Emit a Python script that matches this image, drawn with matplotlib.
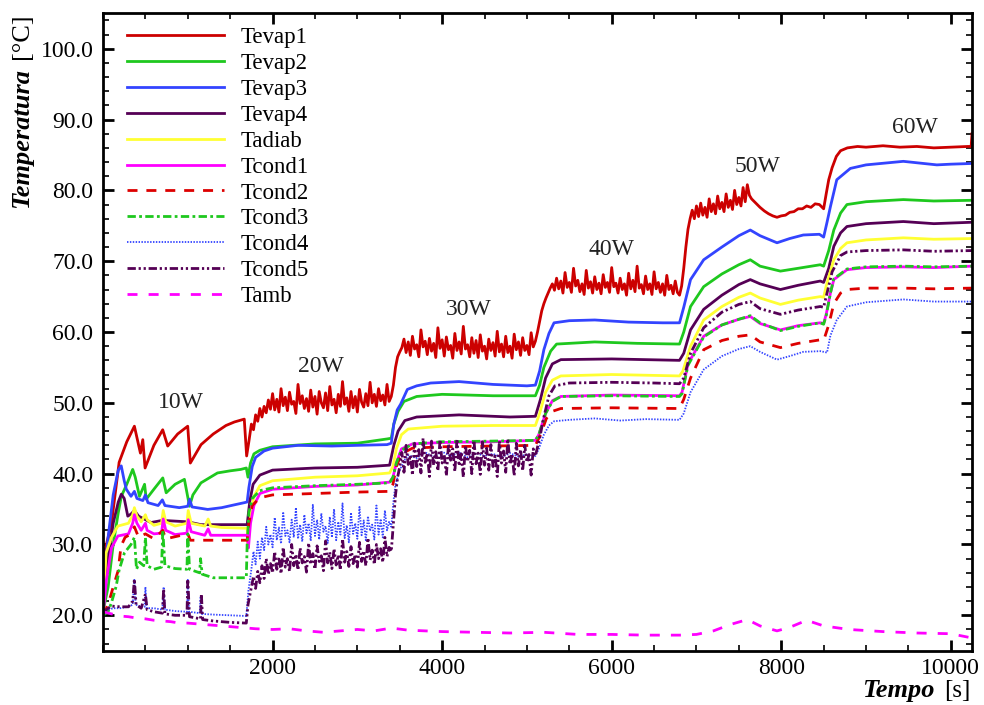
import numpy as np
import matplotlib
matplotlib.use("Agg")
import matplotlib.pyplot as plt
from matplotlib.ticker import MultipleLocator, FormatStrFormatter

# ---------------- data ----------------
# Tevap1 : keypoints (10 W), 25 s grid 1750-7650 (noisy part), keypoints afterwards
tevap1_t_a = [0, 100, 190, 280, 370, 441, 469, 496, 600, 704, 763, 880, 999, 1030,
              1156, 1300, 1450, 1550, 1666, 1694, 1720]
tevap1_T_a = [28.0, 33.0, 41.6, 44.5, 46.7, 42.9, 44.8, 40.8, 44.0, 46.2, 43.9, 45.6, 46.7, 41.5,
              44.1, 45.6, 46.8, 47.3, 47.7, 42.5, 44.5]
tevap1_T_grid = [
    # 20 W
    47.0, 46.2, 48.3, 47.4, 49.2, 48.0, 49.5, 48.6, 50.4, 49.1,
    51.3, 49.0, 50.5, 48.7, 52.0, 49.6, 50.8, 48.9, 51.5, 49.8,
    50.2, 48.5, 52.6, 49.9, 51.0, 49.2, 50.6, 48.8, 51.8, 49.4,
    50.9, 48.4, 51.6, 50.0, 49.3, 51.4, 48.9, 52.3, 49.7, 50.5,
    48.6, 51.2, 49.5, 53.0, 49.8, 50.7, 48.8, 51.6, 49.3, 50.9,
    48.7, 51.9, 50.1, 49.4, 51.3, 49.6, 52.9, 50.0, 51.2, 49.5,
    52.0, 50.3, 51.1, 49.7, 52.6, 50.2, 50.9,
    # 30 W
    52.5, 55.0, 56.5, 57.2, 57.8, 59.0, 57.1, 58.6, 56.7, 59.4,
    57.6, 58.2, 56.5, 60.3, 57.9, 58.7, 56.8, 59.1, 57.3, 58.4,
    56.4, 60.6, 57.7, 58.9, 56.6, 59.3, 57.5, 58.1, 56.3, 59.8,
    57.4, 58.6, 56.9, 60.8, 57.6, 58.2, 56.5, 59.2, 57.0, 58.8,
    56.4, 59.6, 57.3, 58.0, 56.2, 59.0, 57.4, 58.5, 56.6, 60.1,
    57.2, 58.3, 56.5, 59.4, 57.1, 58.0, 56.3, 59.7, 57.5, 58.6,
    56.7, 59.2, 57.4, 58.1, 56.8, 59.9, 57.9, 58.7,
    # 40 W
    60.0, 61.5, 63.0, 64.0, 64.8, 65.5, 66.2, 66.8, 65.9, 67.6,
    66.1, 67.2, 65.5, 68.4, 66.3, 67.0, 65.6, 69.0, 66.5, 67.3,
    65.7, 66.8, 65.3, 68.7, 66.2, 67.1, 65.5, 67.8, 66.0, 66.9,
    65.4, 68.1, 66.3, 67.0, 65.6, 69.1, 66.4, 66.9, 65.5, 67.6,
    66.0, 66.8, 65.2, 68.3, 66.1, 67.3, 65.7, 69.3, 66.2, 66.7,
    65.4, 67.9, 66.0, 66.8, 65.3, 68.5, 66.1, 67.0, 65.6, 66.8,
    65.2, 68.0, 66.0, 66.6, 65.4, 67.2, 65.6, 65.2,
    # 50 W
    66.5, 69.0, 72.0, 74.5, 76.0, 77.2, 76.0, 77.8, 76.3, 78.2,
    76.5, 77.6, 76.2, 78.8, 77.0, 78.1, 76.7, 79.2, 77.4, 78.3,
    77.0, 79.5, 77.6, 78.6, 77.3, 80.0, 78.0, 79.0, 77.8, 80.4,
    78.4, 80.8, 79.3, 78.8]
tevap1_t_b = [7700, 7750, 7800, 7850, 7900, 7950, 8000, 8050, 8100, 8150, 8200, 8250, 8300,
              8350, 8400, 8450, 8500, 8530, 8560, 8600, 8650, 8700, 8780, 8900, 9000, 9200,
              9400, 9600, 9800, 10000, 10200, 10240, 10250]
tevap1_T_b = [78.2, 77.6, 77.1, 76.7, 76.4, 76.2, 76.4, 76.5, 76.9, 77.0, 77.4, 77.4, 77.8,
              77.6, 78.1, 78.0, 77.4, 79.5, 81.5, 83.2, 84.8, 85.6, 86.0, 86.2, 86.1, 86.3,
              86.1, 86.2, 86.0, 86.1, 86.2, 86.2, 88.0]

tevap2_t = [0, 60, 120, 180, 216, 280, 350, 380, 430, 490, 510, 600, 705, 745, 850, 960,
            1020, 1060, 1155, 1350, 1500, 1625, 1690, 1710, 1740, 1780, 1850, 2000, 2500,
            3000, 3350, 3400, 3430, 3480, 3550, 3700, 4000, 4600, 5100, 5150, 5200, 5280,
            5350, 5800, 6300, 6800, 6850, 6930, 7085, 7300, 7500, 7635, 7750, 7990, 8200,
            8460, 8500, 8560, 8620, 8700, 8775, 9000, 9440, 9800, 10250]
tevap2_T = [20.5, 24.0, 30.0, 34.5, 36.8, 38.5, 40.6, 39.5, 36.8, 38.5, 36.4, 37.8, 39.4, 37.3,
            38.5, 39.2, 35.4, 37.0, 38.7, 40.1, 40.4, 40.6, 40.8, 39.5, 41.5, 42.8, 43.3, 43.8,
            44.2, 44.3, 44.9, 45.0, 47.0, 48.8, 50.2, 50.9, 51.2, 51.0, 51.0, 52.5, 55.0, 57.3,
            58.3, 58.6, 58.4, 58.3, 60.0, 63.6, 66.4, 68.2, 69.5, 70.2, 69.3, 68.6, 69.0, 69.5,
            69.3, 71.5, 74.4, 76.8, 78.0, 78.4, 78.7, 78.5, 78.6]

tevap3_t = [0, 60, 120, 180, 215, 250, 275, 330, 370, 400, 470, 500, 530, 650, 700, 730,
            900, 1000, 1020, 1050, 1235, 1400, 1550, 1665, 1700, 1720, 1760, 1800, 1900,
            2000, 2300, 2700, 3000, 3350, 3400, 3430, 3470, 3510, 3590, 3700, 3865, 4200,
            4600, 5000, 5100, 5150, 5200, 5260, 5320, 5500, 5800, 6200, 6600, 6800, 6850,
            6930, 7085, 7300, 7500, 7635, 7750, 7950, 8100, 8260, 8450, 8500, 8540, 8580,
            8655, 8815, 9000, 9440, 9835, 10000, 10250]
tevap3_T = [24.0, 31.0, 37.0, 40.5, 41.1, 39.0, 37.8, 36.8, 37.5, 36.5, 36.2, 37.0, 35.9,
            35.5, 36.3, 35.5, 35.2, 35.4, 36.4, 35.3, 34.95, 35.2, 35.6, 35.9, 36.0, 38.0,
            41.0, 42.3, 43.2, 43.6, 44.0, 43.9, 44.0, 44.1, 44.3, 47.0, 49.0, 49.8, 51.9,
            52.4, 52.8, 53.0, 52.6, 52.4, 52.5, 54.5, 57.5, 59.8, 61.3, 61.6, 61.7, 61.4,
            61.3, 61.3, 63.5, 67.4, 70.2, 72.0, 73.6, 74.4, 73.6, 72.6, 73.2, 73.7, 73.8,
            73.4, 75.5, 77.7, 81.5, 83.1, 83.6, 84.1, 83.6, 83.7, 83.8]

tevap4_t = [0, 60, 120, 180, 216, 250, 292, 330, 370, 420, 565, 700, 1000, 1155, 1665, 1700,
            1730, 1770, 1850, 2000, 2500, 3000, 3380, 3430, 3480, 3560, 3700, 4200, 4800,
            5100, 5160, 5220, 5300, 5400, 6000, 6800, 6850, 6930, 7085, 7300, 7500, 7635,
            7750, 7990, 8200, 8460, 8500, 8560, 8620, 8700, 8775, 9000, 9440, 9800, 10250]
tevap4_T = [22.0, 28.0, 33.0, 36.0, 37.1, 36.5, 34.0, 34.3, 34.8, 34.0, 33.1, 33.4, 33.2,
            32.8, 32.8, 32.8, 36.0, 38.5, 39.8, 40.5, 40.8, 40.9, 41.2, 44.0, 46.0, 47.5,
            48.0, 48.3, 48.0, 48.1, 50.5, 53.5, 55.5, 56.1, 56.2, 56.0, 57.0, 60.3, 63.2,
            65.2, 66.7, 67.4, 66.8, 66.0, 66.6, 67.2, 67.0, 69.0, 72.1, 74.0, 74.9, 75.3,
            75.6, 75.3, 75.5]

tadiab_t = [0, 36, 100, 175, 300, 350, 370, 400, 450, 500, 520, 600, 690, 710, 740, 850,
            990, 1005, 1040, 1200, 1240, 1270, 1400, 1665, 1700, 1710, 1740, 1780, 1850,
            2000, 2500, 3000, 3380, 3420, 3460, 3520, 3600, 4000, 4600, 5100, 5150, 5220,
            5300, 5400, 6000, 6800, 6840, 6930, 7085, 7300, 7500, 7635, 7750, 7990, 8200,
            8460, 8500, 8530, 8620, 8700, 8775, 9000, 9440, 9800, 10250]
tadiab_T = [20.5, 28.8, 31.0, 32.6, 33.0, 34.2, 35.2, 34.0, 33.2, 34.2, 33.5, 32.7, 33.0,
            34.8, 33.2, 32.6, 33.0, 34.8, 33.0, 32.6, 33.6, 32.6, 32.4, 32.3, 32.3, 30.0,
            34.0, 36.8, 38.3, 39.0, 39.5, 39.7, 40.1, 41.0, 43.5, 45.5, 46.3, 46.7, 46.8,
            46.8, 48.5, 51.5, 53.2, 53.8, 54.0, 53.8, 54.5, 58.0, 61.7, 63.6, 64.9, 65.5,
            64.8, 63.9, 64.5, 65.0, 64.9, 66.5, 70.2, 71.8, 72.6, 73.0, 73.3, 73.1, 73.2]

tcond1_t = [0, 40, 100, 175, 300, 350, 370, 400, 450, 500, 520, 600, 690, 710, 740, 850,
            990, 1005, 1040, 1200, 1240, 1270, 1665, 1700, 1715, 1740, 1780, 1850, 2000,
            2500, 3000, 3380, 3420, 3460, 3520, 3650, 4000, 4600, 5100, 5140, 5220, 5300,
            5400, 6000, 6800, 6830, 6900, 7085, 7300, 7500, 7635, 7750, 7990, 8200, 8460,
            8500, 8530, 8580, 8620, 8775, 9000, 9440, 9800, 10250]
tcond1_T = [20.0, 25.0, 29.5, 31.2, 31.5, 33.0, 34.2, 33.0, 32.0, 33.0, 32.0, 31.5, 31.6,
            33.6, 32.0, 31.4, 31.6, 33.5, 31.8, 31.3, 32.2, 31.3, 31.3, 31.3, 29.5, 33.0,
            35.5, 37.2, 37.8, 38.2, 38.4, 38.8, 39.5, 41.5, 43.5, 44.2, 44.4, 44.5, 44.7,
            45.5, 48.5, 50.3, 50.9, 51.1, 51.0, 51.5, 55.5, 59.4, 61.0, 61.8, 62.2, 61.2,
            60.3, 60.9, 61.3, 61.2, 62.5, 65.5, 67.4, 68.8, 69.1, 69.2, 69.1, 69.3]

tcond2_t = [0, 60, 120, 178, 213, 260, 330, 370, 420, 500, 600, 705, 740, 1000, 1030, 1665,
            1700, 1720, 1760, 1850, 2000, 2500, 3000, 3380, 3420, 3460, 3520, 3650, 4000,
            4600, 5100, 5160, 5230, 5300, 5400, 6000, 6800, 6850, 6930, 7085, 7300, 7500,
            7635, 7750, 7990, 8200, 8460, 8500, 8560, 8620, 8700, 8775, 9000, 9440, 9800,
            10250]
tcond2_T = [20.0, 21.5, 24.0, 26.3, 29.8, 31.0, 31.5, 32.5, 31.0, 31.5, 30.8, 32.0, 30.8,
            31.5, 30.6, 30.6, 30.6, 33.0, 35.5, 36.6, 37.0, 37.2, 37.4, 37.5, 38.5, 41.0,
            42.8, 43.6, 43.8, 43.9, 44.0, 45.5, 47.8, 48.8, 49.2, 49.3, 49.2, 50.5, 53.5,
            57.5, 58.8, 59.4, 59.6, 58.6, 57.8, 58.4, 58.9, 58.8, 61.0, 64.0, 65.5, 66.0,
            66.2, 66.2, 66.1, 66.2]

tcond3_t = [0, 60, 100, 155, 190, 252, 330, 370, 395, 430, 480, 500, 520, 600, 690, 705,
            730, 850, 990, 1000, 1020, 1140, 1150, 1170, 1300, 1665, 1690, 1700, 1720, 1760,
            1850, 2000, 2500, 3000, 3380, 3420, 3460, 3520, 3650, 4000, 4600, 5100, 5140,
            5220, 5300, 5400, 6000, 6800, 6830, 6900, 7085, 7300, 7500, 7635, 7750, 7990,
            8200, 8460, 8500, 8530, 8580, 8620, 8775, 9000, 9440, 9800, 10250]
tcond3_T = [20.0, 20.5, 21.8, 24.1, 26.4, 28.8, 30.0, 31.0, 26.5, 27.5, 27.0, 31.0, 27.0,
            26.5, 26.8, 32.0, 27.0, 26.6, 26.5, 31.5, 26.5, 26.0, 28.0, 25.8, 25.3, 25.3,
            25.3, 30.0, 34.5, 36.5, 37.6, 38.0, 38.3, 38.5, 38.7, 39.5, 41.5, 43.3, 44.2,
            44.5, 44.6, 44.7, 45.5, 48.5, 50.2, 50.9, 51.0, 50.9, 51.3, 55.3, 59.3, 61.0,
            61.8, 62.3, 61.3, 60.2, 60.8, 61.3, 61.1, 62.3, 65.5, 67.5, 68.9, 69.2, 69.3,
            69.2, 69.3]

# Tcond4 : keypoints (10 W), 25 s grid 1750-3400 (noisy 20 W), keypoints afterwards
tcond4_t_a = [0, 60, 120, 200, 300, 350, 370, 385, 450, 490, 500, 515, 600, 700, 715, 730,
              850, 990, 1000, 1015, 1140, 1150, 1165, 1300, 1500, 1665, 1690, 1715]
tcond4_T_a = [20.5, 20.8, 21.0, 21.0, 21.2, 21.5, 25.0, 21.5, 21.2, 21.2, 24.0, 21.0, 21.0,
              20.8, 24.0, 20.8, 20.6, 20.5, 25.0, 20.5, 20.3, 22.5, 20.2, 20.1, 20.0, 19.9,
              19.9, 23.5]
tcond4_T_grid = [26.5, 29.0, 27.2, 30.4, 28.0, 31.0, 29.2, 32.5, 30.0, 31.4,
                 29.6, 33.8, 30.6, 32.4, 30.1, 34.6, 31.2, 32.0, 30.3, 33.5,
                 31.0, 35.2, 30.8, 32.8, 30.4, 34.2, 31.6, 33.0, 30.5, 35.6,
                 31.2, 33.5, 30.7, 34.4, 31.8, 32.6, 30.2, 33.9, 31.0, 35.0,
                 30.6, 33.2, 31.4, 35.8, 30.9, 32.7, 30.3, 34.5, 31.5, 33.0,
                 30.8, 35.3, 31.3, 33.4, 30.6, 34.0, 31.9, 32.8, 30.7, 35.5,
                 31.4, 33.6, 31.0, 34.8, 32.0, 33.2, 32.5]
tcond4_t_b = [3425, 3450, 3500, 3550, 3600, 3700, 3800, 3900, 4000, 4100, 4200, 4300, 4400,
              4500, 4600, 4700, 4800, 4900, 5000, 5100, 5140, 5200, 5260, 5320, 5500, 5800,
              6100, 6400, 6800, 6850, 6930, 7085, 7300, 7500, 7635, 7750, 7950, 8100, 8260,
              8460, 8540, 8580, 8655, 8775, 9000, 9440, 9800, 10250]
tcond4_T_b = [36.0, 38.5, 40.5, 41.8, 42.6, 42.2, 43.0, 42.4, 43.1, 42.5, 43.0, 42.3, 42.9,
              42.5, 42.8, 42.3, 42.9, 42.4, 42.7, 42.5, 43.5, 45.5, 46.8, 47.4, 47.6, 47.8,
              47.5, 47.7, 47.6, 48.5, 51.5, 54.7, 56.6, 57.6, 58.0, 57.2, 56.1, 56.6, 57.2,
              57.3, 57.1, 59.5, 61.7, 63.6, 64.2, 64.6, 64.3, 64.3]

# Tcond5 : keypoints (10 W), 25 s grid 1750-5100 (noisy 20-30 W), keypoints afterwards
tcond5_t_a = [0, 100, 200, 300, 350, 370, 390, 450, 500, 520, 600, 700, 715, 730, 850, 990,
              1000, 1020, 1150, 1160, 1175, 1300, 1500, 1665, 1690, 1710]
tcond5_T_a = [20.5, 21.3, 21.2, 21.2, 22.0, 25.1, 21.5, 21.0, 23.0, 20.8, 20.5, 20.3, 23.7,
              20.2, 20.0, 20.0, 25.1, 19.8, 19.5, 23.0, 19.4, 19.2, 19.0, 18.9, 18.9, 21.5]
tcond5_T_grid = [
    # 20 W
    24.0, 25.5, 23.8, 26.2, 24.6, 27.0, 25.2, 28.0, 25.8, 27.3,
    26.0, 29.0, 26.5, 28.2, 25.9, 29.6, 26.8, 28.0, 26.2, 30.0,
    27.0, 28.6, 26.4, 29.5, 27.4, 28.3, 26.1, 30.2, 27.2, 28.7,
    26.5, 29.8, 27.6, 28.4, 26.3, 30.5, 27.4, 28.9, 26.6, 29.4,
    27.1, 28.5, 26.4, 30.8, 27.5, 29.0, 26.9, 29.7, 27.3, 28.6,
    26.8, 30.3, 27.6, 29.1, 27.0, 30.9, 27.8, 29.2, 27.2, 30.0,
    28.0, 29.4, 27.5, 31.0, 28.3, 29.6, 29.0,
    # 30 W
    33.0, 37.0, 39.5, 41.0, 43.0, 40.2, 44.0, 41.3, 42.6, 39.8,
    44.3, 41.0, 43.4, 40.1, 45.0, 41.6, 42.9, 39.6, 44.6, 41.2,
    43.1, 40.4, 44.8, 41.5, 42.7, 39.7, 44.2, 41.9, 43.5, 40.3,
    44.9, 41.1, 42.8, 39.5, 44.0, 41.7, 43.3, 40.0, 44.7, 41.4,
    42.9, 39.9, 44.5, 41.2, 43.6, 40.5, 44.1, 41.0, 42.5, 39.6,
    44.6, 41.5, 43.2, 40.2, 44.9, 41.3, 42.8, 39.7, 44.3, 41.1,
    43.4, 40.4, 44.0, 41.6, 42.7, 39.8, 43.5, 42.5]
tcond5_t_b = [5150, 5200, 5260, 5330, 5500, 6000, 6500, 6800, 6850, 6930, 7085, 7300, 7500,
              7635, 7750, 7990, 8200, 8460, 8500, 8540, 8600, 8700, 8775, 9000, 9440, 9800,
              10250]
tcond5_T_b = [45.0, 48.0, 51.0, 52.4, 52.8, 52.9, 52.8, 52.7, 53.5, 57.0, 60.6, 62.8, 63.9,
              64.3, 63.3, 62.5, 63.1, 63.6, 63.5, 65.5, 68.5, 70.8, 71.3, 71.5, 71.6, 71.4,
              71.5]

tamb_t = [0, 100, 200, 300, 400, 500, 600, 700, 800, 900, 1000, 1100, 1200, 1300, 1400,
          1500, 1600, 1700, 1800, 2000, 2200, 2400, 2600, 2800, 3000, 3200, 3400, 3600,
          4000, 4400, 4800, 5200, 5600, 6000, 6400, 6800, 7000, 7200, 7400, 7600, 7750,
          7950, 8100, 8300, 8500, 8800, 9200, 9600, 10000, 10250]
tamb_T = [20.5, 20.2, 19.9, 19.8, 19.6, 19.5, 19.3, 19.2, 19.1, 18.9, 18.9, 18.8, 18.7,
          18.6, 18.5, 18.4, 18.3, 18.2, 18.1, 18.0, 18.1, 17.8, 17.6, 17.8, 18.0, 17.8,
          18.2, 17.9, 17.7, 17.6, 17.5, 17.6, 17.3, 17.3, 17.2, 17.2, 17.3, 17.8, 18.7,
          19.4, 18.5, 17.8, 18.3, 19.3, 18.5, 18.0, 17.7, 17.5, 17.4, 16.8]

power_labels = ["10W", "20W", "30W", "40W", "50W", "60W"]
power_label_t = [922, 2570, 4313, 5992, 7724, 9579]
power_label_T = [49.3, 54.4, 62.45, 70.9, 82.6, 88.1]

# ---------------- assemble series ----------------
grid_e1 = np.arange(1750, 7651, 25)
grid_c4 = np.arange(1750, 3401, 25)
grid_c5 = np.arange(1750, 5101, 25)
series = [
    ("Tevap1", np.r_[tevap1_t_a, grid_e1, tevap1_t_b], np.r_[tevap1_T_a, tevap1_T_grid, tevap1_T_b]),
    ("Tevap2", tevap2_t, tevap2_T),
    ("Tevap3", tevap3_t, tevap3_T),
    ("Tevap4", tevap4_t, tevap4_T),
    ("Tadiab", tadiab_t, tadiab_T),
    ("Tcond1", tcond1_t, tcond1_T),
    ("Tcond2", tcond2_t, tcond2_T),
    ("Tcond3", tcond3_t, tcond3_T),
    ("Tcond4", np.r_[tcond4_t_a, grid_c4, tcond4_t_b], np.r_[tcond4_T_a, tcond4_T_grid, tcond4_T_b]),
    ("Tcond5", np.r_[tcond5_t_a, grid_c5, tcond5_t_b], np.r_[tcond5_T_a, tcond5_T_grid, tcond5_T_b]),
    ("Tamb", tamb_t, tamb_T),
]

styles = {
    "Tevap1": dict(color="#cc0000", ls="-", lw=2.0),
    "Tevap2": dict(color="#1ec81e", ls="-", lw=2.0),
    "Tevap3": dict(color="#3344ff", ls="-", lw=2.0),
    "Tevap4": dict(color="#550055", ls="-", lw=2.0),
    "Tadiab": dict(color="#ffff33", ls="-", lw=2.0),
    "Tcond1": dict(color="#ff00ff", ls="-", lw=2.0),
    "Tcond2": dict(color="#dd0000", ls=(0, (3.6, 3.2)), lw=2.0),
    "Tcond3": dict(color="#1ec81e", ls=(0, (3.0, 1.2, 1.0, 1.2)), lw=2.0),
    "Tcond4": dict(color="#3344ff", ls=(0, (0.8, 0.8)), lw=1.3),
    "Tcond5": dict(color="#550055", ls=(0, (3.0, 1.0, 0.8, 1.0, 0.8, 1.0)), lw=2.0),
    "Tamb": dict(color="#ff00ff", ls=(0, (3.6, 4.0)), lw=2.0),
}

# ---------------- figure ----------------
SERIF = ["Liberation Serif", "DejaVu Serif"]
plt.rcParams["font.family"] = SERIF

fig = plt.figure(figsize=(9.84, 7.05), dpi=100)
ax = fig.add_axes([0.1047, 0.0770, 0.8831, 0.9041])

for name, t, v in series:
    st = styles[name]
    ax.plot(t, v, color=st["color"], linestyle=st["ls"], linewidth=st["lw"], label=name)

for lab, tt, vv in zip(power_labels, power_label_t, power_label_T):
    ax.text(tt, vv, lab, ha="center", va="baseline", fontsize=17, color="#222222")

ax.set_xlim(0, 10250)
ax.set_ylim(15, 105)
ax.set_xticks([2000, 4000, 6000, 8000, 10000])
ax.xaxis.set_minor_locator(MultipleLocator(500))
ax.set_yticks(np.arange(20, 101, 10))
ax.yaxis.set_minor_locator(MultipleLocator(2))
ax.yaxis.set_major_formatter(FormatStrFormatter("%.1f"))
ax.tick_params(which="both", direction="in", top=True, right=True, labelsize=17)
ax.tick_params(which="major", length=8, width=2)
ax.tick_params(which="minor", length=4, width=1.2)
ax.tick_params(axis="y", which="major", pad=7)
ax.tick_params(axis="x", which="major", pad=5)
for sp in ax.spines.values():
    sp.set_linewidth(2)

leg = ax.legend(loc="upper left", bbox_to_anchor=(0.0276, 0.978), frameon=False,
                fontsize=16.5, handlelength=4.24, handletextpad=0.7, labelspacing=0.21,
                borderpad=0, borderaxespad=0)

# axis labels (bold italic word + regular unit)
fig.text(28 / 984, 1 - 13 / 705, "[°C]", rotation=90, rotation_mode="anchor",
         ha="right", va="baseline", fontsize=19)
fig.text(28 / 984, 1 - 68 / 705, "Temperatura", rotation=90, rotation_mode="anchor",
         ha="right", va="baseline", fontsize=19, fontweight="bold", fontstyle="italic")
fig.text(971 / 984, 1 - 697 / 705, "[s]", ha="right", va="baseline", fontsize=18)
fig.text(935 / 984, 1 - 697 / 705, "Tempo", ha="right", va="baseline", fontsize=19,
         fontweight="bold", fontstyle="italic")

fig.savefig("out.png", dpi=100)
